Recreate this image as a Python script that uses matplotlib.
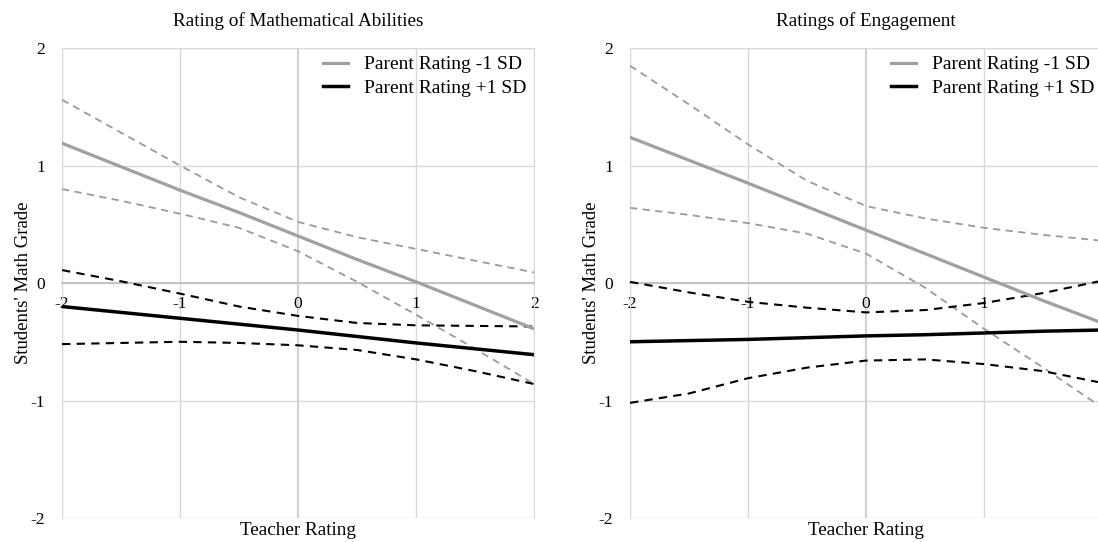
import matplotlib
matplotlib.use("Agg")
import matplotlib.pyplot as plt

plt.rcParams['font.family'] = ['Liberation Serif', 'DejaVu Serif']

x = [-2, -1.5, -1, -0.5, 0, 0.5, 1, 1.5, 2]
titles = ["Rating of Mathematical Abilities", "Ratings of Engagement"]
legend_labels = ["Parent Rating -1 SD", "Parent Rating +1 SD"]
tick_vals = [-2, -1, 0, 1, 2]
tick_labels = ["-2", "-1", "0", "1", "2"]
# right panel's x=2 label falls outside the picture in the reference
tick_labels_right = ["-2", "-1", "0", "1", ""]

# Panel 1: Mathematical abilities
m_low = [1.19, 0.99, 0.79, 0.60, 0.40, 0.20, 0.01, -0.19, -0.39]
m_low_hi = [1.56, 1.28, 1.00, 0.73, 0.52, 0.39, 0.29, 0.19, 0.09]
m_low_lo = [0.80, 0.70, 0.59, 0.47, 0.27, 0.01, -0.27, -0.56, -0.86]
m_high = [-0.20, -0.25, -0.30, -0.35, -0.40, -0.455, -0.51, -0.56, -0.61]
m_high_hi = [0.11, 0.015, -0.09, -0.20, -0.28, -0.34, -0.36, -0.365, -0.37]
m_high_lo = [-0.52, -0.51, -0.50, -0.51, -0.53, -0.57, -0.65, -0.75, -0.86]

# Panel 2: Engagement
e_low = [1.24, 1.045, 0.85, 0.65, 0.45, 0.25, 0.05, -0.15, -0.34]
e_low_hi = [1.85, 1.52, 1.18, 0.87, 0.655, 0.55, 0.47, 0.41, 0.36]
e_low_lo = [0.64, 0.58, 0.51, 0.42, 0.25, -0.04, -0.39, -0.72, -1.06]
e_high = [-0.50, -0.49, -0.48, -0.465, -0.45, -0.44, -0.425, -0.41, -0.40]
e_high_hi = [0.01, -0.08, -0.16, -0.21, -0.25, -0.23, -0.17, -0.085, 0.02]
e_high_lo = [-1.02, -0.94, -0.81, -0.72, -0.66, -0.65, -0.69, -0.75, -0.85]

panels = [
    (m_low, m_low_hi, m_low_lo, m_high, m_high_hi, m_high_lo),
    (e_low, e_low_hi, e_low_lo, e_high, e_high_hi, e_high_lo),
]

fig = plt.figure(figsize=(10.98, 5.42), dpi=100)
axes = [fig.add_axes([0.0565, 0.0443, 0.43, 0.867]),
        fig.add_axes([0.5738, 0.0443, 0.43, 0.867])]

gray = '#a0a0a0'
gray_d = '#9a9a9a'
for i, (ax, title, data) in enumerate(zip(axes, titles, panels)):
    low, low_hi, low_lo, high, high_hi, high_lo = data
    ax.set_xlim(-2, 2)
    ax.set_ylim(-2, 2)
    ax.set_xticks(tick_vals)
    ax.set_yticks(tick_vals)
    ax.set_yticklabels(tick_labels)
    ax.set_xticklabels(tick_labels if i == 0 else tick_labels_right)
    ax.grid(True, color='#d9d9d9', linewidth=1.0, zorder=0)
    ax.axvline(0, color='#bfbfbf', linewidth=1.3, zorder=1)
    for s in ['left', 'right', 'top']:
        ax.spines[s].set_color('#d9d9d9')
    ax.spines['bottom'].set_position(('data', 0))
    ax.spines['bottom'].set_color('#bfbfbf')
    ax.spines['bottom'].set_linewidth(1.3)
    ax.tick_params(axis='both', length=0, labelsize=12.5)
    ax.tick_params(axis='x', pad=9)
    ax.tick_params(axis='y', pad=12)

    ax.plot(x, low_hi, color=gray_d, linestyle=(0, (4, 3)), linewidth=1.3, zorder=3)
    ax.plot(x, low_lo, color=gray_d, linestyle=(0, (4, 3)), linewidth=1.3, zorder=3)
    ax.plot(x, high_hi, color='black', linestyle=(0, (4, 3)), linewidth=1.5, zorder=3)
    ax.plot(x, high_lo, color='black', linestyle=(0, (4, 3)), linewidth=1.5, zorder=3)
    l1, = ax.plot(x, low, color=gray, linewidth=2.3, zorder=4)
    l2, = ax.plot(x, high, color='black', linewidth=2.5, zorder=4)

    ax.set_title(title, fontsize=13.8, pad=16)
    ax.set_xlabel("Teacher Rating", fontsize=13.8)
    ax.xaxis.set_label_coords(0.5, -0.008)
    ax.xaxis.label.set_va('top')
    ax.set_ylabel("Students' Math Grade", fontsize=13.5)
    ax.yaxis.set_label_coords(-0.063, 0.5)
    leg = ax.legend([l1, l2], legend_labels, loc='upper right', frameon=False,
                    fontsize=14, handlelength=1.3, handletextpad=0.8,
                    borderaxespad=0.0, labelspacing=0.3)

fig.savefig("out.png", dpi=100)
